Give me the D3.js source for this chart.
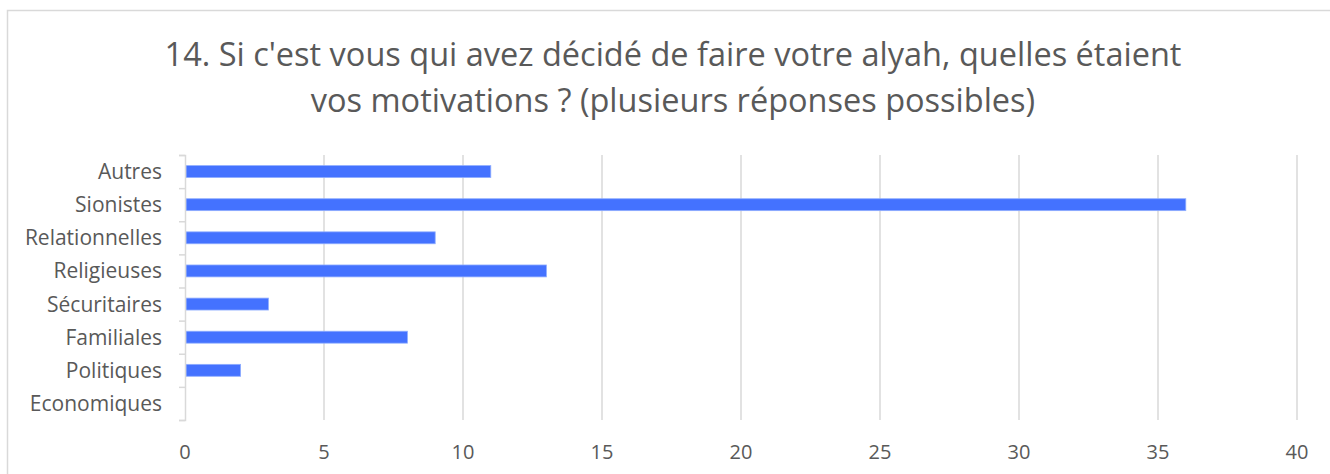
<!DOCTYPE html>
<html>
<head>
<meta charset="utf-8">
<script src="https://cdn.jsdelivr.net/npm/d3@7"></script>
<style>
  body { margin: 0; background: #fff; }
  text { font-family: "Open Sans", sans-serif; fill: #595959; }
</style>
</head>
<body>
<script>
// Survey answers, question 14 (top to bottom as in the chart)
const categories = ['Autres', 'Sionistes', 'Relationnelles', 'Religieuses',
  'Sécuritaires', 'Familiales', 'Politiques', 'Economiques'];
const values = [11, 36, 9, 13, 3, 8, 2, 0];
const xTicks = [0, 5, 10, 15, 20, 25, 30, 35, 40];
const titleLines = [
  "14. Si c'est vous qui avez décidé de faire votre alyah, quelles étaient",
  'vos motivations ? (plusieurs réponses possibles)',
];

const W = 1330;
const H = 474;

const svg = d3.select('body')
  .append('svg')
  .attr('width', W)
  .attr('height', H);

// chart frame, only top and left edges are visible
svg.append('rect')
  .attr('x', 7.5)
  .attr('y', 10.5)
  .attr('width', W + 20)
  .attr('height', H + 20)
  .attr('fill', 'none')
  .attr('stroke', '#d9d9d9')
  .attr('stroke-width', 1.5);

const margin = { top: 155, right: 33, bottom: 54, left: 185 };
const width = W - margin.left - margin.right;
const height = H - margin.top - margin.bottom;

const g = svg.append('g')
  .attr('transform', `translate(${margin.left} ${margin.top})`);

const x = d3.scaleLinear()
  .domain([0, 40])
  .range([0, width]);

const y = d3.scaleBand()
  .domain(categories)
  .range([0, height])
  .paddingInner(0.64)
  .paddingOuter(0.32);

// vertical gridlines
g.selectAll('.grid')
  .data(xTicks.slice(1))
  .enter()
    .append('line')
    .attr('class', 'grid')
    .attr('x1', d => x(d))
    .attr('x2', d => x(d))
    .attr('y1', 0)
    .attr('y2', height)
    .attr('stroke', '#d9d9d9')
    .attr('stroke-width', 1.5);

// x tick labels
g.selectAll('.xlabel')
  .data(xTicks)
  .enter()
    .append('text')
    .attr('class', 'xlabel')
    .attr('x', d => x(d))
    .attr('y', height + 39)
    .attr('text-anchor', 'middle')
    .style('font-size', '20px')
    .text(d => d);

// bars
g.selectAll('.bar')
  .data(values)
  .enter()
    .append('rect')
    .attr('class', 'bar')
    .attr('x', x(0) + 1)
    .attr('y', (d, i) => y(categories[i]))
    .attr('width', d => d === 0 ? 0 : x(d) - x(0) - 1)
    .attr('height', y.bandwidth())
    .attr('fill', '#4472ff')
    .attr('stroke', '#8fadff')
    .attr('stroke-width', 0.8);

// category axis with small outward ticks
const yAxis = g.append('g')
  .call(d3.axisLeft(d3.scaleLinear().domain([0, categories.length]).range([0, height]))
    .ticks(categories.length)
    .tickSize(6)
    .tickSizeOuter(6)
    .tickFormat(''));
yAxis.selectAll('line, path').attr('stroke', '#d9d9d9').attr('stroke-width', 1.5);

g.selectAll('.ylabel')
  .data(categories)
  .enter()
    .append('text')
    .attr('class', 'ylabel')
    .attr('x', -23)
    .attr('y', d => y(d) + y.bandwidth() / 2)
    .attr('dy', '0.36em')
    .attr('text-anchor', 'end')
    .style('font-size', '21px')
    .text(d => d);

// title
svg.selectAll('.title')
  .data(titleLines)
  .enter()
    .append('text')
    .attr('class', 'title')
    .attr('x', 673)
    .attr('y', (d, i) => 66 + i * 46)
    .attr('text-anchor', 'middle')
    .style('font-size', '32.5px')
    .text(d => d);
</script>
</body>
</html>
